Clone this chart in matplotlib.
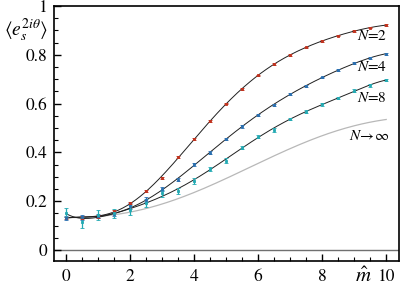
import numpy as np
import matplotlib
matplotlib.use("Agg")
import matplotlib.pyplot as plt
from matplotlib.ticker import MultipleLocator, FuncFormatter

# ---- data ----
m_hat = [0, 0.5, 1, 1.5, 2, 2.5, 3, 3.5, 4, 4.5, 5, 5.5, 6, 6.5, 7, 7.5, 8, 8.5, 9, 9.5, 10]

n2_vals = [0.131, 0.133, 0.137, 0.158, 0.194, 0.240, 0.294, 0.380, 0.455, 0.529, 0.600,
           0.660, 0.716, 0.762, 0.799, 0.831, 0.857, 0.879, 0.897, 0.911, 0.922]
n2_err = [0.005, 0.005, 0.005, 0.004, 0.004, 0.004, 0.004, 0.004, 0.003, 0.003, 0.003,
          0.003, 0.003, 0.003, 0.003, 0.003, 0.003, 0.003, 0.003, 0.003, 0.003]

n4_vals = [0.133, 0.135, 0.138, 0.147, 0.182, 0.206, 0.250, 0.288, 0.352, 0.399, 0.456,
           0.507, 0.555, 0.595, 0.641, 0.672, 0.707, 0.737, 0.766, 0.786, 0.805]
n4_err = [0.008, 0.010, 0.008, 0.008, 0.012, 0.010, 0.010, 0.006, 0.006, 0.005, 0.005,
          0.005, 0.004, 0.004, 0.004, 0.004, 0.004, 0.004, 0.004, 0.004, 0.004]

n8_vals = [0.153, 0.113, 0.144, 0.150, 0.164, 0.192, 0.232, 0.243, 0.283, 0.333, 0.366,
           0.419, 0.465, 0.490, 0.537, 0.567, 0.597, 0.623, 0.653, 0.675, 0.697]
n8_err = [0.019, 0.024, 0.020, 0.018, 0.022, 0.016, 0.015, 0.013, 0.012, 0.008, 0.010,
          0.006, 0.005, 0.008, 0.005, 0.005, 0.005, 0.005, 0.006, 0.005, 0.005]

ninf_x = [0, 1, 2, 3, 4, 5, 6, 7, 8, 9, 10]
ninf_vals = [0.133, 0.137, 0.155, 0.190, 0.235, 0.292, 0.356, 0.416, 0.468, 0.509, 0.535]

series_labels = ["$N$=2", "$N$=4", "$N$=8"]
label_y = [0.878, 0.748, 0.621]
inf_label = r"$N\!\rightarrow\!\infty$"
inf_label_y = 0.466
x_ticks = [0, 2, 4, 6, 8, 10]
y_ticks = [0, 0.2, 0.4, 0.6, 0.8, 1.0]

# ---- style ----
plt.rcParams['font.family'] = 'STIXGeneral'
plt.rcParams['mathtext.fontset'] = 'stix'

colors = ['#c0321e', '#2a6fb0', '#22aab3']

fig = plt.figure(figsize=(4.07, 2.87), dpi=100)
ax = fig.add_axes([54/407, 1 - 261/287, (399-54)/407, (261-6)/287])

ax.axhline(0, color='#707070', lw=1.0, zorder=1)

x = np.array(m_hat)
xf = np.linspace(0, 10, 300)

# N -> infinity curve (smooth)
cinf = np.polyfit(ninf_x, ninf_vals, 5)
ax.plot(xf, np.polyval(cinf, xf), color='#b8b8b8', lw=0.9, zorder=2)

for vals, errs, col in zip([n2_vals, n4_vals, n8_vals], [n2_err, n4_err, n8_err], colors):
    v = np.array(vals); e = np.array(errs)
    c = np.polyfit(x, v, 7, w=1/e)
    ax.plot(xf, np.polyval(c, xf), color='#202020', lw=0.7, zorder=3)
    ax.errorbar(x, v, yerr=e, fmt='s', ms=1.6, color=col, mec=col, mew=0.6, ecolor=col,
                elinewidth=0.9, capsize=1.6, capthick=0.9, zorder=4)

# labels on curves
for lab, ly in zip(series_labels, label_y):
    ax.text(10.03, ly, lab, ha='right', va='center', fontsize=11)
ax.text(10.1, inf_label_y, inf_label, ha='right', va='center', fontsize=11)

ax.set_xlim(-0.375, 10.4)
ax.set_ylim(-0.045, 1.0)
ax.set_xticks(x_ticks)
ax.set_yticks(y_ticks)
ax.xaxis.set_minor_locator(MultipleLocator(0.5))
ax.yaxis.set_minor_locator(MultipleLocator(0.05))
ax.yaxis.set_major_formatter(FuncFormatter(lambda v, p: ('%g' % round(v, 2))))
ax.tick_params(which='both', direction='in', top=False, right=False, labelsize=12.5)
ax.tick_params(which='major', length=5, width=1.0)
ax.tick_params(which='minor', length=3, width=0.8)
ax.tick_params(axis='x', pad=6)
ax.tick_params(axis='y', pad=5)
for s in ax.spines.values():
    s.set_linewidth(1.2)

fig.text(26/407, 1 - 30/287, r"$\langle e_s^{2i\theta}\rangle$", ha='center', va='center', fontsize=14)
fig.text(363/407, 1 - 277/287, r"$\hat{m}$", ha='center', va='center', fontsize=15)

fig.savefig('out.png', dpi=100)
